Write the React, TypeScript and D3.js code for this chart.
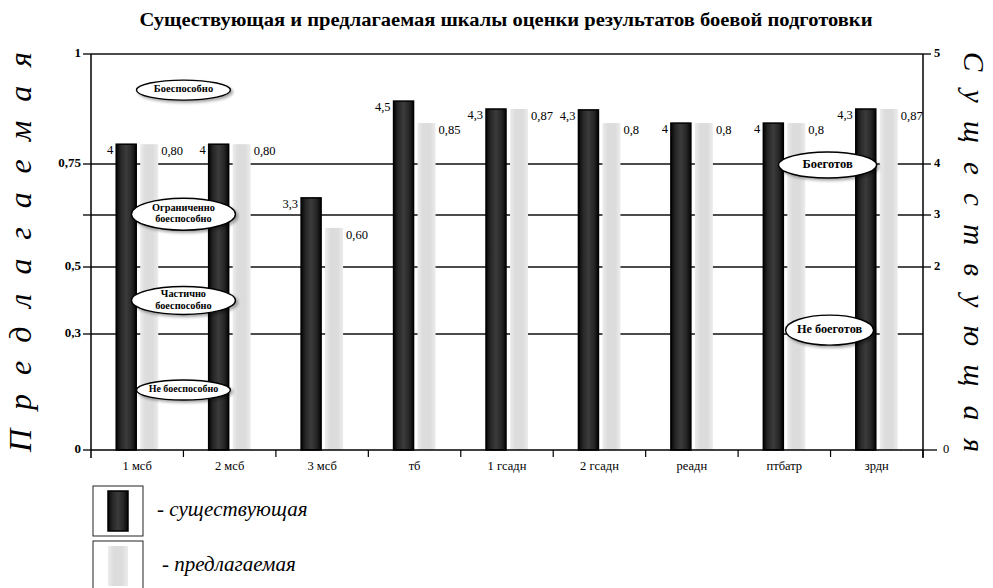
import * as d3 from "d3";

const categories = ["1 мсб", "2 мсб", "3 мсб", "тб", "1 гсадн", "2 гсадн", "реадн", "птбатр", "зрдн"];
// printed values
const existingLabels = ["4", "4", "3,3", "4,5", "4,3", "4,3", "4", "4", "4,3"];
const proposedLabels = ["0,80", "0,80", "0,60", "0,85", "0,87", "0,8", "0,8", "0,8", "0,87"];
// bar heights as drawn
const existingLevel = [0.795, 0.795, 0.667, 0.893, 0.875, 0.873, 0.843, 0.843, 0.875];
const proposedLevel = [0.795, 0.795, 0.594, 0.843, 0.875, 0.843, 0.843, 0.843, 0.875];

const leftTicks = [0, 0.3, 0.5, 0.625, 0.75, 1];
const leftTickLabels = ["0", "0,3", "0,5", "", "0,75", "1"];
const rightTicks = [0, 2, 3, 4, 5];
const rightTickLabels = ["0", "2", "3", "4", "5"];
const gridValues = [0.3, 0.5, 0.625, 0.75];

const title = "Существующая и предлагаемая шкалы оценки результатов боевой подготовки";
const leftTitle = "Предлагаемая";
const rightTitle = "Существующая";
const legendItems = ["- существующая", "- предлагаемая"];

const W = 993;
const H = 588;
const serif = "'Liberation Serif', 'Times New Roman', 'DejaVu Serif', serif";

export default function App() {
  const x0 = 91;
  const x1 = 923;
  const x = d3.scaleBand<string>().domain(categories).range([x0, x1]);
  const yL = d3
    .scaleLinear()
    .domain(leftTicks)
    .range([450, 334, 267, 215, 164, 54]);
  const yR = d3
    .scaleLinear()
    .domain(rightTicks)
    .range([0, 0.5, 0.625, 0.75, 1].map((v) => yL(v)));

  const bw = x.bandwidth();
  const mid = (c: string) => x(c)! + bw / 2;
  const edge = (i: number) => x0 + i * x.step();

  // annotation ellipses, placed against category edges and axis values
  const notes = [
    { lines: ["Боеспособно"], cx: edge(1), cy: yL(0.918), rx: 47, ry: 10, fs: 10.5 },
    { lines: ["Ограниченно", "боеспособно"], cx: edge(1), cy: yL(0.627), rx: 52, ry: 16, fs: 10.3 },
    { lines: ["Частично", "боеспособно"], cx: edge(1), cy: yL(0.4), rx: 52, ry: 14, fs: 10.3 },
    { lines: ["Не боеспособно"], cx: edge(1), cy: yL(0.155), rx: 47, ry: 10, fs: 10 },
    { lines: ["Боеготов"], cx: edge(8) - 3, cy: yR(3.98), rx: 49, ry: 13, fs: 12.5 },
    { lines: ["Не боеготов"], cx: edge(8) - 1, cy: yR(1.31), rx: 44, ry: 15, fs: 12.3 },
  ];

  return (
    <svg
      width={W}
      height={H}
      viewBox={`0 0 ${W} ${H}`}
      style={{ position: "absolute", left: 0, top: 0, background: "#fff", fontFamily: serif }}
    >
      <defs>
        <linearGradient id="dark" x1="0" x2="1" y1="0" y2="0">
          <stop offset="0%" stopColor="#050505" />
          <stop offset="22%" stopColor="#262626" />
          <stop offset="50%" stopColor="#3b3b3b" />
          <stop offset="78%" stopColor="#262626" />
          <stop offset="100%" stopColor="#050505" />
        </linearGradient>
        <linearGradient id="light" x1="0" x2="1" y1="0" y2="0">
          <stop offset="0%" stopColor="#ececec" />
          <stop offset="30%" stopColor="#dcdcdc" />
          <stop offset="70%" stopColor="#dcdcdc" />
          <stop offset="100%" stopColor="#ececec" />
        </linearGradient>
        <filter id="shadow" x="-20%" y="-40%" width="150%" height="190%">
          <feDropShadow dx="2" dy="2" stdDeviation="1.5" floodColor="#000" floodOpacity="0.35" />
        </filter>
      </defs>

      <text
        x={506}
        y={26}
        textAnchor="middle"
        fontWeight="bold"
        fontSize={18}
        textLength={733}
        lengthAdjust="spacingAndGlyphs"
        fill="#000"
      >
        {title}
      </text>

      {/* grid */}
      {gridValues.map((v) => (
        <line key={v} x1={x0} x2={x1} y1={yL(v)} y2={yL(v)} stroke="#111" strokeWidth={1.4} />
      ))}
      <line x1={x0} x2={x1} y1={yL(1)} y2={yL(1)} stroke="#111" strokeWidth={1.4} />

      {/* bars */}
      {categories.map((c, i) => {
        const m = mid(c);
        const yd = yL(existingLevel[i]);
        const yp = yL(proposedLevel[i]);
        return (
          <g key={c}>
            <rect
              x={m - 21}
              y={yd}
              width={20}
              height={yL(0) - yd}
              fill="url(#dark)"
              stroke="#000"
              strokeWidth={1.5}
            />
            <rect x={m + 3} y={yp} width={18} height={yL(0) - yp} fill="url(#light)" />
            <text x={m - 24} y={yd + 7} textAnchor="end" dominantBaseline="middle" fontSize={12.5} fill="#000">
              {existingLabels[i]}
            </text>
            <text x={m + 24} y={yp + 8} dominantBaseline="middle" fontSize={12.5} fill="#000">
              {proposedLabels[i]}
            </text>
          </g>
        );
      })}

      {/* annotations */}
      {notes.map((n, k) => (
        <g key={k}>
          <ellipse
            cx={n.cx}
            cy={n.cy}
            rx={n.rx}
            ry={n.ry}
            fill="#fff"
            stroke="#000"
            strokeWidth={1.4}
            filter="url(#shadow)"
          />
          {n.lines.map((t, j) => (
            <text
              key={j}
              x={n.cx}
              y={n.cy + (j - (n.lines.length - 1) / 2) * (n.fs + 1)}
              textAnchor="middle"
              dominantBaseline="middle"
              fontWeight="bold"
              fontSize={n.fs}
              fill="#000"
            >
              {t}
            </text>
          ))}
        </g>
      ))}

      {/* left axis */}
      <line x1={x0} x2={x0} y1={yL(1)} y2={yL(0) + 8} stroke="#000" strokeWidth={1.5} />
      {leftTicks.map((v, i) => (
        <g key={v}>
          <line x1={x0 - 8} x2={x0} y1={yL(v)} y2={yL(v)} stroke="#000" strokeWidth={1.3} />
          <text
            x={x0 - 10}
            y={yL(v)}
            textAnchor="end"
            dominantBaseline="middle"
            fontWeight="bold"
            fontSize={13}
            fill="#000"
          >
            {leftTickLabels[i]}
          </text>
        </g>
      ))}

      {/* right axis */}
      <line x1={x1} x2={x1} y1={yR(5)} y2={yR(0) + 8} stroke="#000" strokeWidth={1.5} />
      {rightTicks.map((v, i) => (
        <g key={v}>
          <line
            x1={x1}
            x2={x1 + (v === 0 ? 14 : 8)}
            y1={yR(v)}
            y2={yR(v)}
            stroke="#000"
            strokeWidth={1.3}
          />
          <text
            x={v === 0 ? x1 + 20 : x1 + 11}
            y={yR(v)}
            dominantBaseline="middle"
            fontWeight={v === 0 ? "normal" : "bold"}
            fontSize={12.5}
            fill="#000"
          >
            {rightTickLabels[i]}
          </text>
        </g>
      ))}

      {/* x axis */}
      <line x1={x0} x2={x1} y1={yL(0)} y2={yL(0)} stroke="#000" strokeWidth={1.5} />
      {categories.map((c, i) => (
        <g key={c}>
          <line x1={edge(i + 1)} x2={edge(i + 1)} y1={yL(0)} y2={yL(0) + 7} stroke="#000" strokeWidth={1.2} />
          <text x={mid(c)} y={yL(0) + 20} textAnchor="middle" fontSize={12.5} fill="#000">
            {c}
          </text>
        </g>
      ))}

      {/* side titles */}
      <text
        transform={`translate(24, ${(yL(0) + yL(1)) / 2}) rotate(-90)`}
        textAnchor="middle"
        dominantBaseline="middle"
        fontStyle="italic"
        fontSize={32}
        textLength={400}
        lengthAdjust="spacing"
        fill="#000"
      >
        {leftTitle}
      </text>
      <text
        transform={`translate(971, ${(yL(0) + yL(1)) / 2}) rotate(90)`}
        textAnchor="middle"
        dominantBaseline="middle"
        fontStyle="italic"
        fontSize={29}
        textLength={400}
        lengthAdjust="spacing"
        fill="#000"
      >
        {rightTitle}
      </text>

      {/* legend */}
      {legendItems.map((t, i) => {
        const top = 486 + i * 55;
        return (
          <g key={t}>
            <rect x={93} y={top} width={50} height={50} fill="#fff" stroke="#222" strokeWidth={1} />
            <rect
              x={108}
              y={top + 5}
              width={20}
              height={40}
              fill={i === 0 ? "url(#dark)" : "url(#light)"}
              stroke={i === 0 ? "#000" : "none"}
              strokeWidth={1.5}
            />
            <text x={i === 0 ? 157 : 162} y={top + 30} fontStyle="italic" fontSize={21} fill="#000">
              {t}
            </text>
          </g>
        );
      })}
    </svg>
  );
}
